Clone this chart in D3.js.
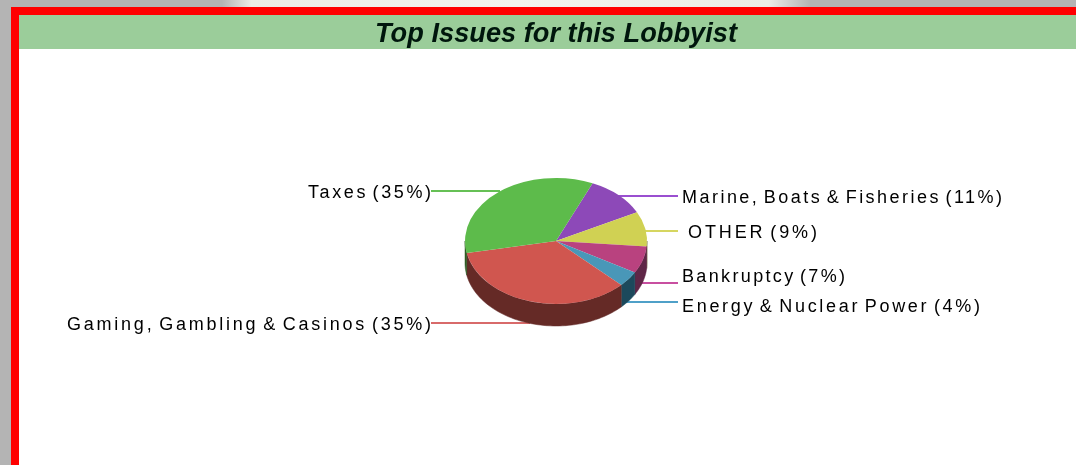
<!DOCTYPE html>
<html><head><meta charset="utf-8">
<script src="https://cdn.jsdelivr.net/npm/d3@7"></script>
<style>html,body{margin:0;padding:0;background:#b4b4b4;overflow:hidden}svg{display:block}</style>
</head><body><svg id="c" width="1076" height="465"></svg>
<script>
const categories=["Marine, Boats & Fisheries","OTHER","Bankruptcy","Energy & Nuclear Power","Gaming, Gambling & Casinos","Taxes"];
const values=[11,9,7,4,35,35];
const topColors=["#8d4ab8","#d0d152","#b9437f","#4897b8","#d05650","#5dbb4b"];
const sideColors=["#45245a","#66662a","#5f2547","#1f4a5c","#652a28","#2e5c25"];
const lineColors=["#9a50d0","#d6d660","#c850a0","#50a0c8","#d86a6a","#66c055"];
const svg=d3.select("#c");
const W=1076,H=465,rx=91,ry=63,cx=556,cy=241,depth=22;
const rad=Math.PI/180;
const defs=svg.append("defs");
defs.append("filter").attr("id","soft").append("feGaussianBlur").attr("stdDeviation",0.6);
defs.append("filter").attr("id","soft2").append("feGaussianBlur").attr("stdDeviation",0.35);
const grad=defs.append("linearGradient").attr("id","strip");
[[0,"#b4b4b4"],[0.05,"#ecece6"],[0.5,"#f3f3ee"],[0.93,"#ecece6"],[1,"#b4b4b4"]].forEach(s=>grad.append("stop").attr("offset",s[0]).attr("stop-color",s[1]));
svg.append("rect").attr("x",222).attr("y",0).attr("width",588).attr("height",7).attr("fill","url(#strip)");
svg.append("rect").attr("x",11).attr("y",7).attr("width",W-11).attr("height",H-7).attr("fill","#ff0000");
svg.append("rect").attr("x",19).attr("y",15).attr("width",W-19).attr("height",H-15).attr("fill","#fff");
svg.append("rect").attr("x",19).attr("y",15).attr("width",W-19).attr("height",34).attr("fill","#9bcd9a");
svg.append("text").attr("x",556).attr("y",42).attr("text-anchor","middle").attr("filter","url(#soft2)")
 .attr("font-family","Liberation Sans").attr("font-weight","bold").attr("font-style","italic")
 .attr("font-size",27).attr("textLength",362).attr("lengthAdjust","spacingAndGlyphs").attr("fill","#06180a").text("Top Issues for this Lobbyist");
const pie=d3.pie().sort(null).startAngle(23.7*rad).endAngle(383.7*rad)(values);
const x=d3.scaleLinear().domain([-1,1]).range([cx-rx,cx+rx]);
const y=d3.scaleLinear().domain([-1,1]).range([cy-ry,cy+ry]);
const px=a=>x(Math.sin(a)),py=a=>y(-Math.cos(a));
const g=svg.append("g").attr("filter","url(#soft)");
const labels=[
 {i:0,lx:682,ly:196,x0:618,y0:196,anchor:"start"},
 {i:1,lx:688,ly:231,x0:645,y0:231,anchor:"start"},
 {i:2,lx:682,ly:283,x0:640,y0:283,anchor:"start"},
 {i:3,lx:682,ly:302,x0:622,y0:302,anchor:"start"},
 {i:4,lx:431,ly:323,x0:530,y0:323,anchor:"end"},
 {i:5,lx:431,ly:191,x0:500,y0:191,anchor:"end"}];
labels.forEach(l=>{
 const xe=l.anchor==="start"?678:431;
 g.append("line").attr("x1",l.x0).attr("x2",xe).attr("y1",l.y0).attr("y2",l.y0).attr("stroke",lineColors[l.i]).attr("stroke-width",2);
});
const wall=(a0,a1)=>{
 const n=Math.max(2,Math.ceil((a1-a0)/(2*rad)));
 const as=d3.range(n+1).map(k=>a0+(a1-a0)*k/n);
 const top=as.map(a=>[px(a),py(a)]),bot=as.slice().reverse().map(a=>[px(a),py(a)+depth]);
 return d3.line()(top.concat(bot))+"Z";
};
pie.forEach((d,i)=>{
 const a0=Math.max(d.startAngle,90*rad),a1=Math.min(d.endAngle,270*rad);
 if(a1>a0) g.append("path").attr("d",wall(a0,a1)).attr("fill",sideColors[i]).attr("stroke",sideColors[i]).attr("stroke-width",.5);
});
const arc=d3.arc().innerRadius(0).outerRadius(1);
g.selectAll("path.top").data(pie).join("path").attr("class","top")
 .attr("transform",`translate(${cx},${cy}) scale(${rx},${ry})`)
 .attr("d",arc).attr("fill",(d,i)=>topColors[i]);
const tg=svg.append("g").attr("filter","url(#soft2)");
const widths=[320,129,163,298,364,123];
const baselines=[203,238,282,312,330,198];
labels.forEach(l=>{
 tg.append("text").attr("x",l.lx).attr("y",baselines[l.i])
  .attr("text-anchor",l.anchor).attr("font-family","Liberation Sans").attr("font-size",18)
  .attr("word-spacing",-3).attr("fill","#000").attr("textLength",widths[l.i]).attr("lengthAdjust","spacing")
  .text(`${categories[l.i]} (${values[l.i]}%)`);
});
</script></body></html>
